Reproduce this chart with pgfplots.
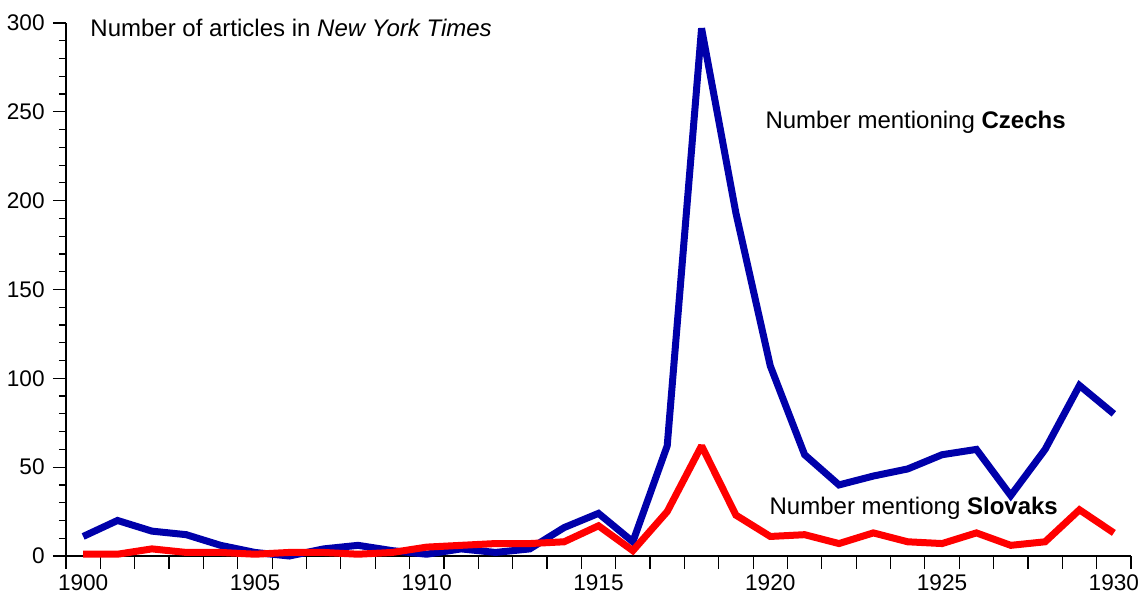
\documentclass[border=0pt]{standalone}
\usepackage{pgfplots}
\pgfplotsset{compat=1.18}
\usepackage{fontspec}
\setmainfont{Liberation Sans}
\definecolor{czblue}{HTML}{0000AA}
\definecolor{skred}{HTML}{FF0000}
\begin{document}
\fontsize{12pt}{14.4pt}\selectfont
\begin{tikzpicture}
\path[use as bounding box] (-33pt,-18.5pt) rectangle (539.5pt,278pt);
\begin{axis}[
  at={(0,0)},
  scale only axis, width=532.5pt, height=266.5pt,
  anchor=south west,
  xmin=1899.5, xmax=1930.5, ymin=0, ymax=300,
  axis x line=bottom, axis y line=left,
  axis line style={-, line width=0.8pt},
  tick align=outside,
  xtick={1899.5,1900.5,...,1930.5}, xticklabels={},
  extra x ticks={1900,1905,...,1930},
  extra x tick labels={1900,1905,1910,1915,1920,1925,1930},
  extra x tick style={major tick length=0pt, xticklabel style={yshift=-5pt}},
  ytick={0,50,...,300},
  minor y tick num=4,
  major tick length=6.5pt, minor tick length=3.5pt,
  tick style={black, line width=0.6pt},
  tick label style={font=\fontsize{11.3pt}{13pt}\selectfont},
  /pgf/number format/assume math mode=true,
  scaled ticks=false,
  clip=false,
]
\addplot[czblue, line width=3.5pt, line join=miter, miter limit=2] coordinates {
(1900,11) (1901,20) (1902,14) (1903,12) (1904,6) (1905,2) (1906,0) (1907,4)
(1908,6) (1909,3) (1910,1) (1911,4) (1912,2) (1913,4) (1914,16) (1915,24)
(1916,8) (1917,62) (1918,297) (1919,193) (1920,107) (1921,57) (1922,40)
(1923,45) (1924,49) (1925,57) (1926,60) (1927,34) (1928,60) (1929,96) (1930,80)
};
\addplot[skred, line width=3.5pt, line join=miter, miter limit=2] coordinates {
(1900,1) (1901,1) (1902,4) (1903,2) (1904,2) (1905,1) (1906,2) (1907,2)
(1908,1) (1909,2) (1910,5) (1911,6) (1912,7) (1913,7) (1914,8) (1915,17)
(1916,3) (1917,25) (1918,62) (1919,23) (1920,11) (1921,12) (1922,7)
(1923,13) (1924,8) (1925,7) (1926,13) (1927,6) (1928,8) (1929,26) (1930,13)
};
\draw[line width=0.8pt] (axis cs:1899.15,0) -- (axis cs:1899.5,0);
\node[anchor=west, inner sep=0pt] at (axis cs:1900.2,297) {Number of articles in \textit{New York Times}};
\node[anchor=west, inner sep=0pt] at (axis cs:1919.85,244) {Number mentioning \textbf{Czechs}};
\node[anchor=west, inner sep=0pt] at (axis cs:1919.97,27) {Number mentiong \textbf{Slovaks}};
\end{axis}
\end{tikzpicture}
\end{document}
